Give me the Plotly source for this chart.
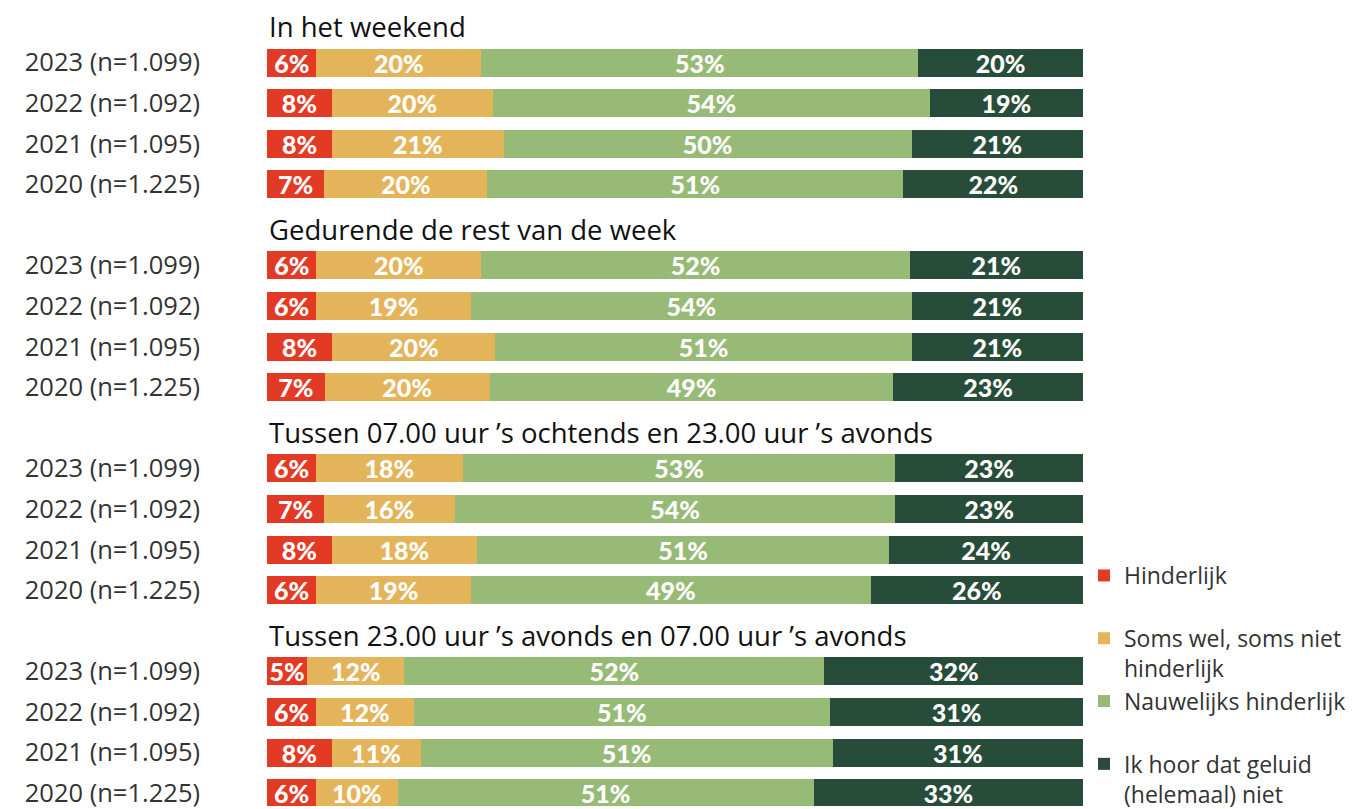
import plotly.graph_objects as go

# ---- data ----
group_titles = [
    "In het weekend",
    "Gedurende de rest van de week",
    "Tussen 07.00 uur \u2019s ochtends en 23.00 uur \u2019s avonds",
    "Tussen 23.00 uur \u2019s avonds en 07.00 uur \u2019s avonds",
]
year_labels = ["2023 (n=1.099)", "2022 (n=1.092)", "2021 (n=1.095)", "2020 (n=1.225)"]
categories = ["Hinderlijk", "Soms wel, soms niet<br>hinderlijk", "Nauwelijks hinderlijk",
              "Ik hoor dat geluid<br>(helemaal) niet"]
colors = ["#E33A26", "#E4B45A", "#97BA77", "#274C39"]

hinderlijk = [6, 8, 8, 7,  6, 6, 8, 7,  6, 7, 8, 6,  5, 6, 8, 6]
soms = [20, 20, 21, 20,  20, 19, 20, 20,  18, 16, 18, 19,  12, 12, 11, 10]
nauwelijks = [53, 54, 50, 51,  52, 54, 51, 49,  53, 54, 51, 49,  52, 51, 51, 51]
hoor_niet = [20, 19, 21, 22,  21, 21, 21, 23,  23, 23, 24, 26,  32, 31, 31, 33]
series = [hinderlijk, soms, nauwelijks, hoor_niet]

# slot positions: each group has a title slot followed by 4 bar slots
bar_slots = []
title_slots = []
for g in range(len(group_titles)):
    title_slots.append(g * 5)
    for k in range(len(year_labels)):
        bar_slots.append(g * 5 + 1 + k)
tick_text = year_labels * len(group_titles)

text_font = "'Open Sans', sans-serif"
bar_font = "Lato, sans-serif"

W, H = 1353, 801

fig = go.Figure()
for i, (name, vals) in enumerate(zip(categories, series)):
    legend_name = name if "<br>" in name else name + "<br>\u00a0"
    fig.add_trace(go.Bar(
        y=bar_slots, x=vals, orientation="h", name=legend_name,
        marker=dict(color=colors[i], line=dict(width=0)),
        width=0.69,
        text=[f"{v}%" for v in vals], textposition="inside",
        insidetextanchor="middle", textangle=0,
        textfont=dict(color="white", size=25, family=bar_font, weight=900),
        legendgroup=f"g{i}", hoverinfo="skip",
    ))

for g, t in enumerate(group_titles):
    fig.add_annotation(x=0, xref="paper", y=title_slots[g], yref="y",
                       text=t, showarrow=False, xanchor="left", yanchor="middle",
                       yshift=-5,
                       font=dict(size=27.5, color="#111111", family=text_font))

fig.update_layout(
    width=W, height=H,
    margin=dict(l=259, r=278, t=0, b=0),
    barmode="stack", barnorm="percent",
    plot_bgcolor="white", paper_bgcolor="white",
    uniformtext=dict(minsize=25, mode="show"),
    showlegend=True,
    legend=dict(xref="container", yref="container", x=1076 / W, y=1 - 546 / H,
                xanchor="left", yanchor="top", valign="top",
                traceorder="grouped", tracegroupgap=0,
                font=dict(size=23, color="#333333", family=text_font),
                bgcolor="rgba(0,0,0,0)"),
    xaxis=dict(range=[0, 100], visible=False, fixedrange=True),
    yaxis=dict(range=[19.318, -0.344], tickvals=bar_slots, ticktext=tick_text,
               showgrid=False, zeroline=False, showline=False, ticks="",
               ticklabelstandoff=66, ticklabeloverflow="allow",
               tickfont=dict(size=25.5, color="#333333", family=text_font)),
)

fig.write_html("out.html")
